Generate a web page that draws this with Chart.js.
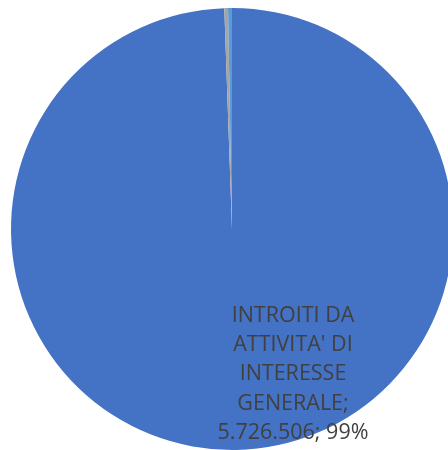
<!DOCTYPE html>
<html>
<head>
    <title>Introiti</title>
    <script src="https://cdn.jsdelivr.net/npm/chart.js@4.4.1/dist/chart.umd.min.js"></script>
    <style>
        html, body {
            margin: 0;
            padding: 0;
            background-color: #fff;
            overflow: hidden;
            width: 448px;
            height: 450px;
        }

        .wrap {
            position: absolute;
            left: 0;
            top: 0;
            width: 464px;
            height: 458px;
        }
    </style>
</head>
<body>
<div class="wrap">
    <canvas id="pieChart" width="464" height="458"></canvas>
</div>
<script>
    // categorie e valori
    const categorie = [
        "INTROITI DA ATTIVITA' DI INTERESSE GENERALE",
        "ATTIVITA' DIVERSE",
        "RACCOLTA FONDI",
        "ATTIVITA' FINANZIARIE E PATRIMONIALI",
        "SUPPORTO GENERALE"
    ];
    const valori = [5726506, 0, 15500, 0, 16500];
    const colori = ['#4472C4', '#ED7D31', '#A5A5A5', '#FFC000', '#5B9BD5'];

    // righe dell'etichetta della fetta principale
    const righeEtichetta = ["INTROITI DA", "ATTIVITA' DI", "INTERESSE", "GENERALE;", "5.726.506; 99%"];

    const etichettaPlugin = {
        id: 'etichetta',
        afterDatasetsDraw(chart) {
            const arc = chart.getDatasetMeta(0).data[0];
            if (!arc) return;
            const ctx = chart.ctx;
            const r = arc.outerRadius;
            const x = arc.x + r * 0.276;
            const y = arc.y + r * 0.421;
            ctx.save();
            ctx.font = '21.5px "Open Sans", sans-serif';
            ctx.fillStyle = '#404040';
            ctx.textAlign = 'center';
            ctx.textBaseline = 'alphabetic';
            righeEtichetta.forEach(function (t, i) {
                ctx.fillText(t, x, y + i * 29.2);
            });
            ctx.restore();
        }
    };

    const chart = new Chart("pieChart", {
        type: 'pie',
        data: {
            labels: categorie,
            datasets: [{
                data: valori,
                backgroundColor: colori,
                borderWidth: 0
            }]
        },
        options: {
            responsive: false,
            animation: false,
            layout: { padding: 8 },
            plugins: {
                legend: { display: false },
                tooltip: { enabled: false }
            }
        },
        plugins: [etichettaPlugin]
    });
</script>
</body>
</html>
